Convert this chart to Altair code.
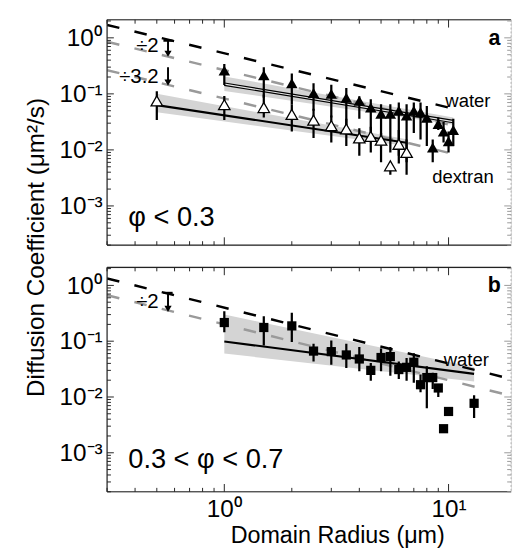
import altair as alt
import pandas as pd

FONT = "Liberation Sans"
W = 416
HA = 232
HB = 231
XDOM = [0.3, 19]
YDOM = [2e-4, 2.1]

# ---------------- data ----------------
# panel a, water (filled triangles)
water_x = [1, 1.5, 2, 2.5, 3, 3.5, 4, 4.5, 5, 5.5, 6, 6.5, 7, 7.5, 8, 8.5, 9, 9.5, 10, 10.5]
water_y = [0.26, 0.215, 0.155, 0.104, 0.100, 0.085, 0.075, 0.057, 0.044, 0.044,
           0.050, 0.041, 0.050, 0.047, 0.0375, 0.011, 0.029, 0.0213, 0.0143, 0.0227]
water_lo = [0.144, 0.085, 0.065, 0.050, 0.038, 0.026, 0.036, 0.0174, 0.0117, 0.009,
            0.0079, 0.006, 0.020, 0.0153, 0.0117, 0.006, 0.0226, 0.0135, 0.009, 0.0117]
water_hi = [0.34, 0.30, 0.23, 0.155, 0.145, 0.127, 0.091, 0.080, 0.065, 0.065,
            0.070, 0.065, 0.070, 0.070, 0.061, 0.0153, 0.038, 0.0316, 0.0213, 0.036]

# panel a, dextran (open triangles)
dex_x = [0.5, 1, 1.5, 2, 2.5, 3, 3.5, 4, 4.5, 5, 5.5, 6, 6.5]
dex_y = [0.075, 0.064, 0.057, 0.043, 0.034, 0.027, 0.0237, 0.0163, 0.0174, 0.0149, 0.0052, 0.0126, 0.009]
dex_lo = [0.034, 0.034, 0.038, 0.0213, 0.0163, 0.0135, 0.0117, 0.0079, 0.009, 0.006, 0.0036, 0.0057, 0.0036]
dex_hi = [0.111, 0.092, 0.097, 0.065, 0.054, 0.041, 0.036, 0.0244, 0.026, 0.020, 0.006, 0.0226, 0.0153]

# panel b, 0.3 < phi < 0.7 (squares)
mix_x = [1, 1.5, 2, 2.5, 3, 3.5, 4, 4.5, 5, 5.5, 6, 6.5, 7, 7.5, 8, 8.5, 9, 9.5, 10, 13]
mix_y = [0.216, 0.176, 0.188, 0.0665, 0.065, 0.0567, 0.048, 0.030, 0.051, 0.053,
         0.031, 0.034, 0.042, 0.0166, 0.0223, 0.0223, 0.0145, 0.0027, 0.0055, 0.0077]
mix_lo = [0.144, 0.084, 0.097, 0.0434, 0.0378, 0.033, 0.029, 0.0195, 0.029, 0.024,
          0.021, 0.0195, 0.018, 0.0122, 0.0063, 0.0139, 0.010, 0.0027, 0.0055, 0.0042]
mix_hi = [0.343, 0.281, 0.322, 0.090, 0.103, 0.090, 0.079, 0.0405, 0.074, 0.079,
          0.0434, 0.050, 0.0606, 0.0253, 0.0357, 0.0271, 0.0171, 0.0027, 0.0055, 0.0107]

# fits and confidence bands
a_wfit_x = [1, 10.5]
a_wfit_y = [0.149, 0.032]
a_wband_lo = [0.113, 0.028]
a_wband_hi = [0.205, 0.038]
a_dfit_x = [0.5, 6.5]
a_dfit_y = [0.063, 0.0134]
a_dband_lo = [0.047, 0.0117]
a_dband_hi = [0.100, 0.0155]
b_fit_x = [1, 13]
b_fit_y = [0.099, 0.026]
b_band_lo = [0.060, 0.019]
b_band_hi = [0.300, 0.034]

# dashed reference lines
a_dash_x = [0.3, 11]
a_black_y = [1.7, 0.052]
a_gray1_y = [0.85, 0.026]
a_gray2_y = [0.265, 0.0081]
b_dash_x = [0.3, 19]
b_black_y = [1.33, 0.021]
b_gray_y = [0.667, 0.0105]

# annotation arrows (x, top, tip)
a_arrow_x = [0.561, 0.561]
a_arrow_top = [0.89, 0.30]
a_arrow_tip = [0.52, 0.158]
a_arrow_bar = [True, False]
b_arrow_x = [0.561]
b_arrow_top = [0.735]
b_arrow_tip = [0.38]
b_arrow_bar = [True]

# axis ticks
x_major = [1, 10]
x_minor = [m * 10.0 ** e for e in (-1, 0, 1) for m in range(2, 10) if XDOM[0] <= m * 10.0 ** e <= XDOM[1]]
y_major = [1e-3, 1e-2, 1e-1, 1]
y_minor = [m * 10.0 ** e for e in range(-4, 1) for m in range(2, 10) if YDOM[0] <= m * 10.0 ** e <= YDOM[1]]

xs = alt.Scale(type="log", domain=XDOM, nice=False)
ys = alt.Scale(type="log", domain=YDOM, nice=False)

YLABELS = "'10' + ['\u207b\u00b3','\u207b\u00b2','\u207b\u00b9','\u2070','\u00b9'][round(log(datum.value)/LN10)+3]"


def make_axes(bottom):
    yax = alt.Axis(values=y_major, labelExpr=YLABELS, labelFontSize=25, labelFont=FONT,
                   labelColor="black", ticks=False, tickSize=0, domain=False, grid=False,
                   labelPadding=5, title=None)
    if bottom:
        yax = alt.Axis(values=y_major, labelExpr=YLABELS, labelFontSize=25, labelFont=FONT,
                       labelColor="black", ticks=False, tickSize=0, domain=False, grid=False,
                       labelPadding=5, title="Diffusion Coefficient (\u03bcm\u00b2/s)",
                       titleFont=FONT, titleFontSize=25, titleFontWeight="normal",
                       titleColor="black", titleX=-73, titleY=-21, titleAngle=270,
                       titleAlign="center", titleBaseline="middle")
        xax = alt.Axis(values=x_major, labelExpr="datum.value >= 10 ? '10\u00b9' : '10\u2070'",
                       labelFontSize=25, labelFont=FONT, labelColor="black", ticks=False,
                       tickSize=0, domain=False, grid=False, labelPadding=5,
                       title="Domain Radius (\u03bcm)", titleFont=FONT, titleFontSize=24,
                       titleFontWeight="normal", titleColor="black", titleX=237, titleY=52,
                       titleAlign="center", titleBaseline="alphabetic")
    else:
        xax = alt.Axis(values=x_major, labels=False, ticks=False, tickSize=0, domain=False,
                       grid=False, title=None)
    return xax, yax


def X(xax, f="x"):
    return alt.X(f"{f}:Q", scale=xs, axis=xax)


def Y(yax, f="y"):
    return alt.Y(f"{f}:Q", scale=ys, axis=yax)


def line(xv, yv, xax, yax, color, width, dash=None):
    df = pd.DataFrame({"x": xv, "y": yv})
    kw = dict(color=color, strokeWidth=width, clip=True)
    if dash:
        kw["strokeDash"] = dash
    return alt.Chart(df).mark_line(**kw).encode(x=X(xax), y=Y(yax))


def band(xv, lo, hi, xax, yax):
    df = pd.DataFrame({"x": xv, "lo": lo, "hi": hi})
    return alt.Chart(df).mark_area(color="#d4d4d4", opacity=1, clip=True).encode(
        x=X(xax), y=Y(yax, "lo"), y2="hi:Q")


def errbars(xv, lo, hi, xax, yax):
    df = pd.DataFrame({"x": xv, "lo": lo, "hi": hi})
    return alt.Chart(df).mark_rule(color="black", strokeWidth=2.3, clip=True).encode(
        x=X(xax), y=Y(yax, "lo"), y2="hi:Q")


def frame(h, xax, yax):
    one = pd.DataFrame({"k": [0]})
    layers = [
        alt.Chart(one).mark_rule(color="#222", strokeWidth=1.2).encode(
            x=alt.value(0), y=alt.value(0), y2=alt.value(h)),
        alt.Chart(one).mark_rule(color="#222", strokeWidth=1.2).encode(
            x=alt.value(0), x2=alt.value(W), y=alt.value(0)),
        alt.Chart(one).mark_rule(color="#222", strokeWidth=1.2).encode(
            x=alt.value(0), x2=alt.value(W), y=alt.value(h)),
        alt.Chart(one).mark_rule(color="#b0b0b0", strokeWidth=1, strokeDash=[2, 2]).encode(
            x=alt.value(W), y=alt.value(0), y2=alt.value(h)),
    ]
    for vals, ln in ((x_major, 8), (x_minor, 4)):
        df = pd.DataFrame({"x": vals})
        layers.append(alt.Chart(df).mark_rule(color="#222", strokeWidth=1).encode(
            x=X(xax), y=alt.value(h), y2=alt.value(h - ln)))
        layers.append(alt.Chart(df).mark_rule(color="#222", strokeWidth=1).encode(
            x=X(xax), y=alt.value(0), y2=alt.value(ln)))
    for vals, ln in ((y_major, 7), (y_minor, 4)):
        df = pd.DataFrame({"y": vals})
        layers.append(alt.Chart(df).mark_rule(color="#222", strokeWidth=1).encode(
            y=Y(yax), x=alt.value(0), x2=alt.value(ln)))
        layers.append(alt.Chart(df).mark_rule(color="#999", strokeWidth=1).encode(
            y=Y(yax), x=alt.value(W), x2=alt.value(W - ln)))
    return layers


def texts(rows, xax, yax, **kw):
    df = pd.DataFrame(rows, columns=["x", "y", "t"])
    base = dict(font=FONT, color="black")
    base.update(kw)
    return alt.Chart(df).mark_text(**base).encode(x=X(xax), y=Y(yax), text="t:N")


def arrows(xv, top, tip, bar, xax, yax):
    df = pd.DataFrame({"x": xv, "top": top, "tip": tip, "bar": bar})
    out = [
        alt.Chart(df).mark_rule(color="black", strokeWidth=2).encode(
            x=X(xax), y=Y(yax, "top"), y2="tip:Q"),
        alt.Chart(df).mark_point(shape="triangle-down", filled=True, color="black",
                                 size=55, opacity=1).encode(x=X(xax), y=Y(yax, "tip")),
        alt.Chart(df[df["bar"]]).mark_point(shape="stroke", color="black", size=90,
                                            strokeWidth=2.2, opacity=1).encode(
            x=X(xax), y=Y(yax, "top")),
    ]
    return out


# ---------------- panel a ----------------
xa, ya = make_axes(False)
carrier_a = alt.Chart(pd.DataFrame({"x": [1], "y": [0.1]})).mark_point(opacity=0).encode(
    x=X(xa), y=Y(ya))

panel_a = alt.layer(
    carrier_a,
    band(a_wfit_x, a_wband_lo, a_wband_hi, xa, ya),
    band(a_dfit_x, a_dband_lo, a_dband_hi, xa, ya),
    line(a_dash_x, a_gray1_y, xa, ya, "#9a9a9a", 2.5, [13, 16]),
    line(a_dash_x, a_gray2_y, xa, ya, "#9a9a9a", 2.5, [13, 16]),
    line(a_dash_x, a_black_y, xa, ya, "black", 2.5, [13, 16]),
    line(a_wfit_x, a_wfit_y, xa, ya, "black", 3.6),
    line(a_wfit_x, a_wfit_y, xa, ya, "#e6e6e6", 1.2),
    line(a_dfit_x, a_dfit_y, xa, ya, "black", 2.2),
    errbars(dex_x, dex_lo, dex_hi, xa, ya),
    errbars(water_x, water_lo, water_hi, xa, ya),
    alt.Chart(pd.DataFrame({"x": dex_x, "y": dex_y})).mark_point(
        shape="triangle-up", filled=True, fill="white", stroke="black", strokeWidth=1.3,
        size=140, opacity=1).encode(x=X(xa), y=Y(ya)),
    alt.Chart(pd.DataFrame({"x": water_x, "y": water_y})).mark_point(
        shape="triangle-up", filled=True, color="black", size=140, opacity=1).encode(
        x=X(xa), y=Y(ya)),
    *arrows(a_arrow_x, a_arrow_top, a_arrow_tip, a_arrow_bar, xa, ya),
    texts([[0.52, 0.55, "\u00f72"], [0.52, 0.155, "\u00f73.2"]], xa, ya,
          fontSize=21, align="right", baseline="alphabetic", dx=-2),
    texts([[12.2, 0.0747, "water"], [11.6, 0.0032, "dextran"]], xa, ya,
          fontSize=19, align="center", baseline="middle"),
    texts([[16.0, 1.0, "a"]], xa, ya, fontSize=22, fontWeight="bold",
          align="center", baseline="middle"),
    texts([[0.373, 4.4e-4, "\u03c6 < 0.3"]], xa, ya, fontSize=28, align="left",
          baseline="alphabetic"),
    *frame(HA, xa, ya),
).properties(width=W, height=HA)

# ---------------- panel b ----------------
xb, yb = make_axes(True)
carrier_b = alt.Chart(pd.DataFrame({"x": [1], "y": [0.1]})).mark_point(opacity=0).encode(
    x=X(xb), y=Y(yb))

panel_b = alt.layer(
    carrier_b,
    band(b_fit_x, b_band_lo, b_band_hi, xb, yb),
    line(b_dash_x, b_gray_y, xb, yb, "#9a9a9a", 2.5, [13, 16]),
    line(b_dash_x, b_black_y, xb, yb, "black", 2.5, [13, 16]),
    line(b_fit_x, b_fit_y, xb, yb, "black", 2.2),
    errbars(mix_x, mix_lo, mix_hi, xb, yb),
    alt.Chart(pd.DataFrame({"x": mix_x, "y": mix_y})).mark_square(
        color="black", size=90, opacity=1).encode(x=X(xb), y=Y(yb)),
    *arrows(b_arrow_x, b_arrow_top, b_arrow_tip, b_arrow_bar, xb, yb),
    texts([[0.52, 0.40, "\u00f72"]], xb, yb, fontSize=21, align="right",
          baseline="alphabetic", dx=-2),
    texts([[12.0, 0.046, "water"]], xb, yb, fontSize=19, align="center", baseline="middle"),
    texts([[16.0, 1.0, "b"]], xb, yb, fontSize=22, fontWeight="bold",
          align="center", baseline="middle"),
    texts([[0.373, 5.44e-4, "0.3 < \u03c6 < 0.7"]], xb, yb, fontSize=28, align="left",
          baseline="alphabetic"),
    *frame(HB, xb, yb),
).properties(width=W, height=HB)

chart = alt.vconcat(panel_a, panel_b, spacing=23, bounds="flush").properties(
    padding={"left": 16, "top": 2, "right": 0, "bottom": 0}
).configure_view(stroke=None).configure(background="white")

chart.save("out.html", embed_options={"renderer": "svg", "actions": False})
